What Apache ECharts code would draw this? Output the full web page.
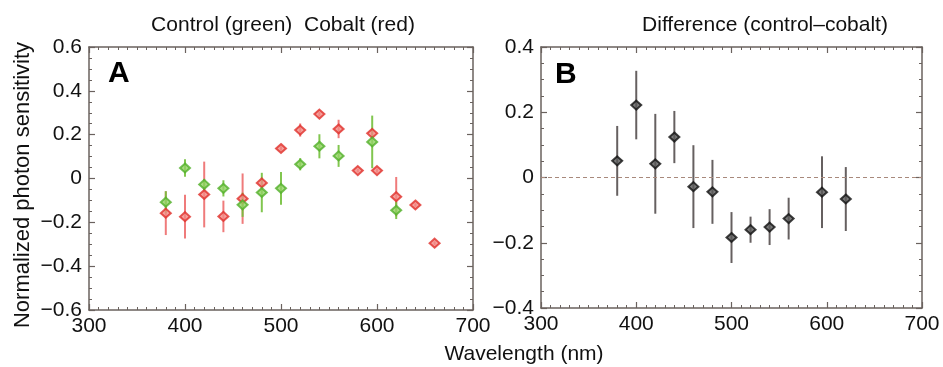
<!DOCTYPE html>
<html>
<head>
<meta charset="utf-8">
<script src="https://cdn.jsdelivr.net/npm/echarts@6/dist/echarts.min.js"></script>
<style>html,body{margin:0;padding:0;background:#fff}#c{width:943px;height:367px}</style>
</head>
<body>
<div id="c"></div>
<script>
// ---- data ----
const xTicks = [300, 400, 500, 600, 700];
const yTicksA = [-0.6, -0.4, -0.2, 0, 0.2, 0.4, 0.6];
const yTicksB = [-0.4, -0.2, 0, 0.2, 0.4];

const controlWl  = [380, 400, 420, 440, 460, 480, 500, 520, 540, 560, 595, 620];
const controlVal = [-0.108, 0.048, -0.027, -0.045, -0.12, -0.064, -0.045, 0.065, 0.147, 0.103, 0.167, -0.145];
const controlErr = [0.05, 0.04, 0.025, 0.037, 0.055, 0.09, 0.075, 0.028, 0.055, 0.05, 0.12, 0.04];

const cobaltWl  = [380, 400, 420, 440, 460, 480, 500, 520, 540, 560, 580, 595, 600, 620, 640, 660];
const cobaltVal = [-0.158, -0.174, -0.073, -0.173, -0.092, -0.02, 0.137, 0.221, 0.294, 0.226, 0.036, 0.206, 0.036, -0.083, -0.121, -0.295];
const cobaltErr = [0.1, 0.1, 0.15, 0.072, 0.115, 0.015, 0.01, 0.03, 0.01, 0.042, 0.008, 0.02, 0.01, 0.09, 0.008, 0.008];

const diffWl  = [380, 400, 420, 440, 460, 480, 500, 520, 540, 560, 595, 620];
const diffVal = [0.051, 0.222, 0.042, 0.124, -0.028, -0.044, -0.184, -0.16, -0.152, -0.126, -0.045, -0.066];
const diffErr = [0.107, 0.105, 0.153, 0.08, 0.127, 0.098, 0.078, 0.04, 0.055, 0.064, 0.11, 0.098];

// ---- build ----
const FONT = 'Liberation Sans, Arial, sans-serif';
const AX = '#6a625e';
const zip3 = (w, v, e) => w.map((x, i) => [x, v[i], e[i]]);

function errSeries(data, color, xi, yi, width) {
  return {
    type: 'custom', xAxisIndex: xi, yAxisIndex: yi, silent: true, z: 2,
    data: data,
    renderItem: function (params, api) {
      const x = api.value(0), y = api.value(1), e = api.value(2);
      const a = api.coord([x, y + e]);
      const b = api.coord([x, y - e]);
      return { type: 'line', shape: { x1: a[0], y1: a[1], x2: b[0], y2: b[1] },
               style: { stroke: color, lineWidth: width } };
    }
  };
}
function ptSeries(data, fill, border, xi, yi) {
  return {
    type: 'scatter', xAxisIndex: xi, yAxisIndex: yi, z: 3, silent: true,
    symbol: 'diamond', symbolSize: [10, 9],
    itemStyle: { color: fill, borderColor: border, borderWidth: 2 },
    data: data.map(d => [d[0], d[1]])
  };
}
const minusFmt = v => (Math.abs(v) < 1e-9 ? '0' : String(+v.toFixed(1)).replace('-', '\u2212'));

function xAxis(grid, pos, labels) {
  return {
    type: 'value', gridIndex: grid, position: pos, min: xTicks[0], max: xTicks[xTicks.length - 1], interval: 100,
    axisLine: { show: true, onZero: false, lineStyle: { color: AX, width: 1.5 } },
    axisTick: { show: true, inside: true, length: 6, lineStyle: { color: AX, width: 1.2 } },
    minorTick: { show: true, splitNumber: 10, length: 3, lineStyle: { color: AX, width: 1 } },
    splitLine: { show: false },
    axisLabel: { show: labels, fontFamily: FONT, fontSize: 21, color: '#111', margin: 6 }
  };
}
function yAxis(grid, pos, ticks, labels) {
  return {
    type: 'value', gridIndex: grid, position: pos, min: ticks[0], max: ticks[ticks.length - 1], interval: 0.2,
    axisLine: { show: true, onZero: false, lineStyle: { color: AX, width: 1.5 } },
    axisTick: { show: true, inside: true, length: 6, lineStyle: { color: AX, width: 1.2 } },
    minorTick: { show: true, splitNumber: 4, length: 3, lineStyle: { color: AX, width: 1 } },
    splitLine: { show: false },
    axisLabel: { show: labels, fontFamily: FONT, fontSize: 21, color: '#111', margin: 7, formatter: minusFmt }
  };
}

const ctrl = zip3(controlWl, controlVal, controlErr);
const cob = zip3(cobaltWl, cobaltVal, cobaltErr);
const dif = zip3(diffWl, diffVal, diffErr);

const diffPts = ptSeries(dif, '#5a5a5a', '#111', 2, 2);
diffPts.markLine = {
  silent: true, symbol: 'none', label: { show: false },
  lineStyle: { color: '#a8897c', type: [4, 3], width: 1.2 },
  data: [{ yAxis: 0 }]
};

const option = {
  animation: false,
  backgroundColor: '#fff',
  grid: [
    { left: 89, top: 47, width: 384, height: 263 },
    { left: 541, top: 47, width: 381, height: 261 }
  ],
  xAxis: [xAxis(0, 'bottom', true), xAxis(0, 'top', false), xAxis(1, 'bottom', true), xAxis(1, 'top', false)],
  yAxis: [yAxis(0, 'left', yTicksA, true), yAxis(0, 'right', yTicksA, false),
          yAxis(1, 'left', yTicksB, true), yAxis(1, 'right', yTicksB, false)],
  series: [
    errSeries(cob, 'rgba(236,100,100,0.85)', 0, 0, 2),
    errSeries(ctrl, 'rgba(115,192,60,0.9)', 0, 0, 2),
    ptSeries(cob, '#f28a84', '#e0302a', 0, 0),
    ptSeries(ctrl, '#92d264', '#52b02a', 0, 0),
    errSeries(dif, '#666060', 2, 2, 2),
    diffPts
  ],
  graphic: [
    { type: 'text', x: 283, y: 25, style: { text: 'Control (green)  Cobalt (red)', textAlign: 'center', textVerticalAlign: 'middle', font: '21px ' + FONT, fill: '#111' } },
    { type: 'text', x: 765, y: 25, style: { text: 'Difference (control\u2013cobalt)', textAlign: 'center', textVerticalAlign: 'middle', font: '21px ' + FONT, fill: '#111' } },
    { type: 'text', x: 524, y: 354, style: { text: 'Wavelength (nm)', textAlign: 'center', textVerticalAlign: 'middle', font: '21px ' + FONT, fill: '#111' } },
    { type: 'text', x: 23, y: 185, rotation: Math.PI / 2, style: { text: 'Normalized photon sensitivity', textAlign: 'center', textVerticalAlign: 'middle', font: '22px ' + FONT, fill: '#111' } },
    { type: 'text', x: 108, y: 74, style: { text: 'A', textAlign: 'left', textVerticalAlign: 'middle', font: 'bold 30px ' + FONT, fill: '#000' } },
    { type: 'text', x: 555, y: 75, style: { text: 'B', textAlign: 'left', textVerticalAlign: 'middle', font: 'bold 30px ' + FONT, fill: '#000' } }
  ]
};

const chart = echarts.init(document.getElementById('c'), null, { renderer: 'canvas' });
chart.setOption(option);
</script>
</body>
</html>
